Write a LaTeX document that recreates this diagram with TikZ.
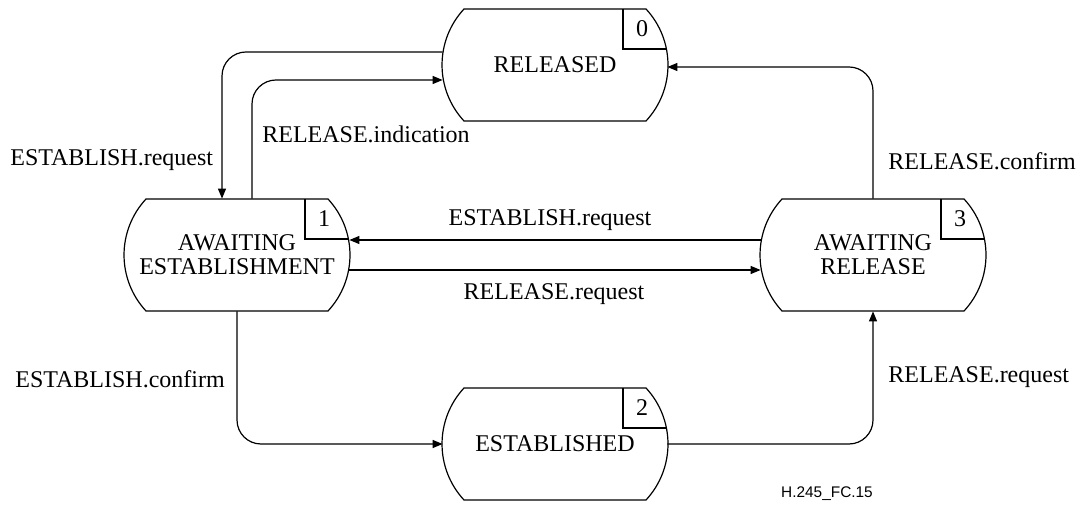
\documentclass[tikz,border=0pt]{standalone}
\usepackage{fontspec}
\setmainfont{Liberation Serif}
\newfontfamily\tagfont{Liberation Sans}
\usetikzlibrary{arrows.meta}

\tikzset{
  state/.style={rectangle, minimum width=112pt, minimum height=56pt, inner sep=0pt,
    align=center, font=\fontsize{12}{12}\selectfont},
  outline/.style={line width=0.6pt},
  flow/.style={line width=0.6pt, -{Triangle[length=5pt,width=4pt]}, rounded corners=12pt},
  msg/.style={font=\fontsize{12}{14}\selectfont, inner sep=0pt},
}

\begin{document}
\begin{tikzpicture}[x=0.5pt, y=-0.5pt]
  \useasboundingbox (0,0) rectangle (1085,506);

  % States
  \node[state] (rel) at (555,65) {RELEASED};
  \node[state] (awe) at (237,255) {AWAITING\\ESTABLISHMENT};
  \node[state] (awr) at (873,255) {AWAITING\\RELEASE};
  \node[state] (est) at (555,444) {ESTABLISHED};

  % State symbols with their number boxes
  \foreach \s/\n in {rel/0, awe/1, est/2, awr/3} {
    \begin{scope}[shift={(\s.center)}]
      \draw[outline] (-91,-56) -- (91,-56)
        .. controls (120.3,-24.4) and (120.3,24.4) .. (91,56) -- (-91,56)
        .. controls (-120.3,24.4) and (-120.3,-24.4) .. (-91,-56) -- cycle;
      \draw[outline] (68,-56) -- (68,-16) -- (111.5,-16);
      \node[font=\fontsize{12}{12}\selectfont, inner sep=0pt] (\s-num) at (87,-36) {\n};
    \end{scope}
  }

  % Transitions
  \draw[flow] ([shift={(0,-13)}]rel.west) -| ([shift={(-15,0)}]awe.north);
  \draw[flow] ([shift={(15,0)}]awe.north) |- ([shift={(0,15)}]rel.west);
  \draw[flow] ([shift={(0,-15)}]awr.west) -- ([shift={(0,-15)}]awe.east);
  \draw[flow] ([shift={(0,15)}]awe.east) -- ([shift={(0,15)}]awr.west);
  \draw[flow] (awe.south) |- (est.west);
  \draw[flow] (est.east) -| (awr.south);
  \draw[flow] (awr.north) |- ([shift={(0,2)}]rel.east);

  % Primitives
  \node[msg, anchor=base west] (lreq) at (10,166) {ESTABLISH.request};
  \node[msg, anchor=base west] (lind) at (262,143) {RELEASE.indication};
  \node[msg, anchor=base] (mreq) at (550,226) {ESTABLISH.request};
  \node[msg, anchor=base] (mrel) at (554,300) {RELEASE.request};
  \node[msg, anchor=base west] (lcon) at (15,388) {ESTABLISH.confirm};
  \node[msg, anchor=base west] (rrel) at (888,383) {RELEASE.request};
  \node[msg, anchor=base west] (rcon) at (888,170) {RELEASE.confirm};

  % Figure tag
  \node[font=\tagfont\fontsize{7.7}{9}\selectfont, anchor=base, inner sep=0pt] (tag) at (827,498) {H.245\_FC.15};
\end{tikzpicture}
\end{document}
